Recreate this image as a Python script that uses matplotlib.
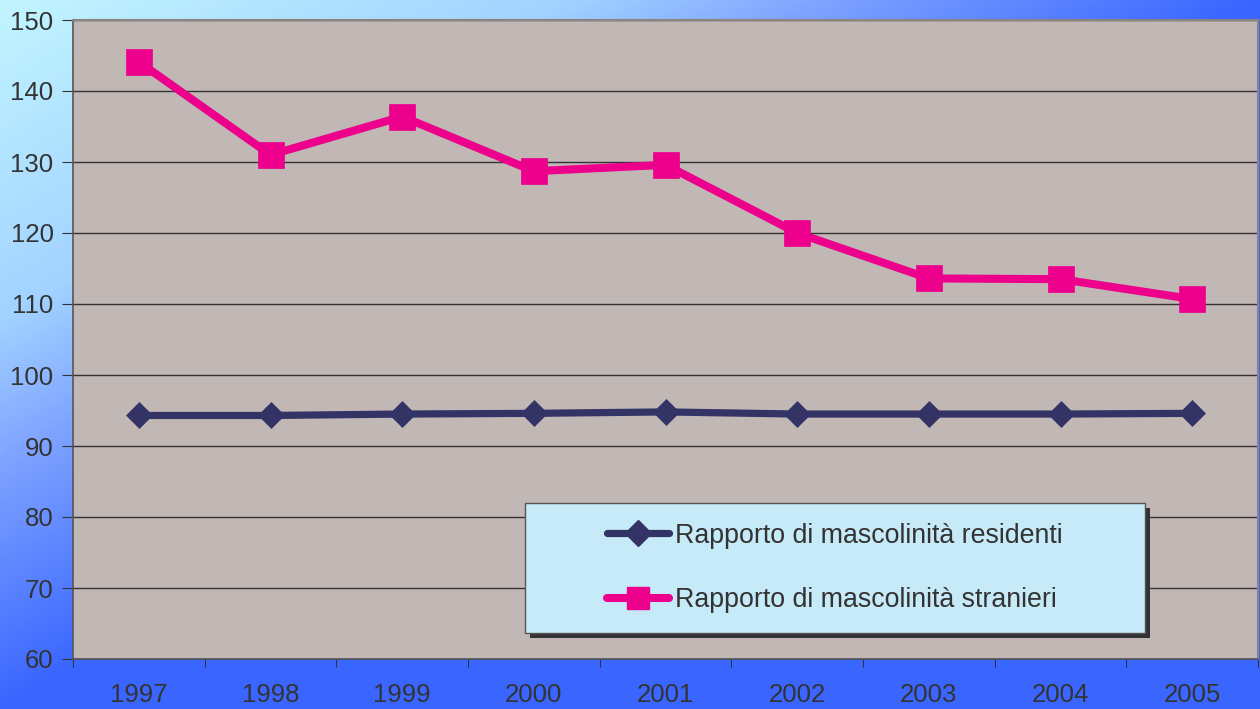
import numpy as np
import matplotlib
matplotlib.use("Agg")
import matplotlib.pyplot as plt
from matplotlib.colors import LinearSegmentedColormap
from matplotlib.patches import Rectangle
from matplotlib.lines import Line2D

years = ["1997", "1998", "1999", "2000", "2001", "2002", "2003", "2004", "2005"]
residenti = [94.3, 94.3, 94.5, 94.6, 94.8, 94.5, 94.5, 94.5, 94.6]
stranieri = [144.1, 131.0, 136.4, 128.7, 129.6, 120.0, 113.6, 113.5, 110.7]
label_res = "Rapporto di mascolinità residenti"
label_str = "Rapporto di mascolinità stranieri"
y_ticks = [60, 70, 80, 90, 100, 110, 120, 130, 140, 150]

plt.rcParams['font.family'] = ['Liberation Sans', 'DejaVu Sans']
W, H = 1260, 709
fig = plt.figure(figsize=(W / 100, H / 100), dpi=100)

# background gradient
bg = fig.add_axes([0, 0, 1, 1], zorder=-10)
xx, yy = np.meshgrid(np.linspace(0, 1, 400), np.linspace(0, 1, 240))
t = np.clip((xx + yy) / 1.0, 0, 1)
cmap = LinearSegmentedColormap.from_list(
    "bgc", [(0, "#C2F5FF"), (0.45, "#A2D2FF"), (0.65, "#7FA4FF"), (1.0, "#3A66FF")])
bg.imshow(t, cmap=cmap, aspect='auto', extent=[0, 1, 1, 0], vmin=0, vmax=1)
bg.set_xlim(0, 1); bg.set_ylim(1, 0)
bg.axis('off')

left, right = 73 / W, 1258 / W
bottom, top = (H - 659) / H, (H - 20) / H
ax = fig.add_axes([left, bottom, right - left, top - bottom])
ax.set_facecolor("#C1B8B5")

x = np.arange(len(years))
ax.plot(x, residenti, color="#333366", lw=5.2, marker='D', ms=13.5,
        mec="#333366", mew=0.5, zorder=3, solid_capstyle='round')
ax.plot(x, stranieri, color="#EC008C", lw=5.8, marker='s', ms=19,
        mec="#EC008C", mew=0.5, zorder=4, solid_capstyle='round')

ax.set_xlim(-0.5, len(years) - 0.5)
ax.set_ylim(60, 150)
ax.set_yticks(y_ticks)
ax.set_yticklabels([str(v) for v in y_ticks])
ax.set_xticks(np.arange(-0.5, len(years), 1.0))
ax.set_xticklabels([])
ax.set_xticks(x, minor=True)
ax.set_xticklabels(years, minor=True)
ax.tick_params(axis='x', which='minor', length=0, pad=17, labelsize=18.5, labelcolor="#333333")
ax.tick_params(axis='x', which='major', length=6, direction='out', color="#333333")
ax.tick_params(axis='y', length=8, direction='out', color="#333333", labelsize=18.5,
               labelcolor="#333333", pad=6)
ax.yaxis.grid(True, color="#333333", lw=1.0)
ax.set_axisbelow(True)
for s in ['top', 'right']:
    ax.spines[s].set_color("#8C8481")
    ax.spines[s].set_linewidth(1.5)
for s in ['left', 'bottom']:
    ax.spines[s].set_color("#555555")
    ax.spines[s].set_linewidth(1.2)

# legend box with shadow
lx0, lx1 = (525 - 73) / 1185, (1145 - 73) / 1185
ly0, ly1 = (659 - 633) / 639, (659 - 503) / 639
sx, sy = 5 / 1185, 5 / 639
ax.add_patch(Rectangle((lx0 + sx, ly0 - sy), lx1 - lx0, ly1 - ly0, transform=ax.transAxes,
                       facecolor="#333336", edgecolor='none', zorder=5))
ax.add_patch(Rectangle((lx0, ly0), lx1 - lx0, ly1 - ly0, transform=ax.transAxes,
                       facecolor="#C6EAF8", edgecolor="#555555", lw=1.0, zorder=6))
handles = [
    Line2D([], [], color="#333366", lw=5.2, marker='D', ms=13, mec="#333366",
           solid_capstyle='round'),
    Line2D([], [], color="#EC008C", lw=5.8, marker='s', ms=16, mec="#EC008C",
           solid_capstyle='round'),
]
leg = ax.legend(handles, [label_res, label_str], loc='center',
                bbox_to_anchor=((lx0 + lx1) / 2, (ly0 + ly1) / 2), bbox_transform=ax.transAxes,
                frameon=False, fontsize=19.3, labelspacing=1.45, handlelength=2.3,
                handletextpad=0.25, labelcolor="#333333")
leg.set_zorder(7)

fig.savefig("out.png", dpi=100)
